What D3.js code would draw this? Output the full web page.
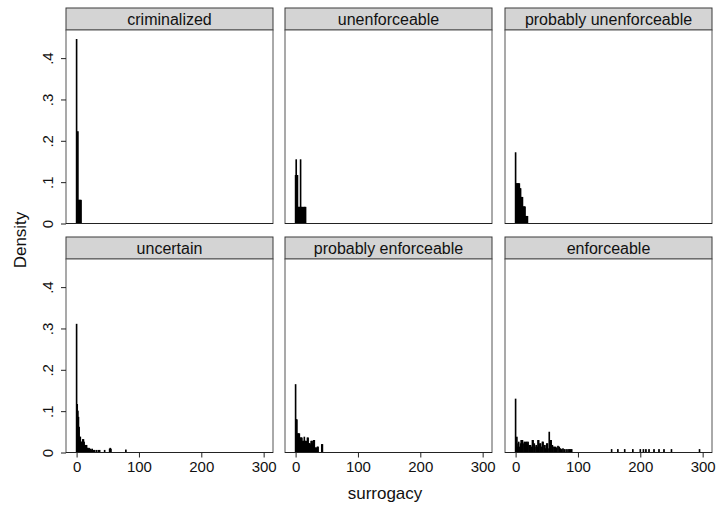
<!DOCTYPE html>
<html><head><meta charset="utf-8">
<script src="https://cdn.jsdelivr.net/npm/d3@7/dist/d3.min.js"></script>
<style>
body{margin:0;background:#fff;}
svg{display:block;font-family:"Liberation Sans",Arial,Helvetica,sans-serif;}
</style></head>
<body><svg id="chart" width="716" height="508"></svg>
<script>
// ---- data ----
const panelNames = ["criminalized","unenforceable","probably unenforceable","uncertain","probably enforceable","enforceable"];
// [surrogacy value, density], bin width 1
const criminalized = [[0,.445],[2,.222],[3,.056],[4,.056],[5,.056],[6,.056],[7,.056]];
const unenforceable = [[0,.116],[1,.154],[2,.116],[3,.116],[4,.039],[5,.039],[6,.039],[7,.039],[8,.154],[9,.039],[10,.039],[11,.039],[13,.039],[14,.039],[15,.039],[16,.039]];
const probablyUnenforceable = [[0,.171],[1,.096],[2,.096],[3,.096],[4,.096],[5,.096],[6,.096],[7,.084],[8,.084],[9,.063],[10,.063],[11,.063],[12,.040],[13,.040],[14,.040],[15,.040],[16,.017],[17,.017],[18,.017],[19,.017]];
const uncertain = [[0,.310],[1,.116],[2,.100],[3,.085],[4,.061],[5,.037],[6,.037],[7,.025],[8,.025],[9,.021],[10,.031],[11,.031],[12,.025],[13,.017],[14,.017],[15,.013],[16,.017],[17,.010],[18,.010],[19,.008],[20,.010],[21,.006],[22,.008],[24,.006],[25,.008],[27,.005],[29,.005],[32,.005],[35,.005],[37,.005],[45,.005],[53,.008],[54,.010],[55,.008],[79,.006]];
const probablyEnforceable = [[0,.164],[1,.079],[2,.079],[3,.045],[4,.045],[5,.045],[6,.045],[7,.035],[8,.035],[9,.035],[10,.035],[11,.027],[12,.027],[13,.027],[14,.037],[15,.027],[16,.027],[17,.027],[18,.021],[19,.035],[20,.035],[21,.021],[22,.021],[23,.021],[24,.017],[25,.027],[26,.027],[27,.021],[28,.027],[29,.029],[30,.029],[32,.011],[33,.011],[35,.013],[36,.013],[42,.019],[43,.019]];
const enforceable = [[0,.129],[1,.011],[2,.037],[3,.013],[4,.021],[5,.025],[6,.013],[8,.021],[9,.029],[10,.021],[11,.029],[12,.021],[14,.025],[15,.021],[16,.025],[18,.025],[19,.021],[20,.025],[22,.017],[23,.013],[24,.017],[26,.013],[27,.029],[28,.029],[30,.021],[31,.013],[33,.017],[35,.013],[36,.029],[37,.029],[39,.021],[40,.021],[41,.013],[43,.025],[44,.025],[46,.017],[47,.017],[48,.009],[50,.021],[51,.021],[52,.009],[54,.049],[56,.029],[57,.029],[59,.017],[60,.013],[62,.013],[64,.013],[66,.011],[68,.015],[70,.013],[72,.009],[74,.007],[76,.009],[78,.007],[81,.007],[84,.007],[86,.007],[88,.007],[90,.007],[154,.007],[164,.007],[175,.007],[188,.007],[200,.007],[205,.007],[209,.007],[214,.007],[222,.007],[230,.007],[238,.007],[250,.007],[295,.007]];
const panelData = [criminalized, unenforceable, probablyUnenforceable, uncertain, probablyEnforceable, enforceable];
const xTicks = [0,100,200,300];
const yTicks = [0,.1,.2,.3,.4];
const yTickLabels = ["0",".1",".2",".3",".4"];
const binWidth = 1;

// ---- layout ----
const svg = d3.select("#chart");
const colX = [66,285,505], panelW = 207;
const rowTop = [8,237], stripH = 22, plotH = 193.5;
const xDomain = [-17,315], yDomain = [0,0.468];
const FONT = "'Liberation Sans',Arial,sans-serif";

panelNames.forEach((name,i)=>{
  const r = Math.floor(i/3), c = i%3;
  const x0 = colX[c], top = rowTop[r], py = top+stripH, pb = py+plotH;
  const x = d3.scaleLinear().domain(xDomain).range([x0,x0+panelW]);
  const y = d3.scaleLinear().domain(yDomain).range([pb,py]);
  const g = svg.append("g");
  // strip
  g.append("rect").attr("x",x0).attr("y",top).attr("width",panelW).attr("height",stripH)
    .attr("fill","#d4d4d4").attr("stroke","#3a3a3a").attr("stroke-width",1);
  g.append("text").attr("x",x0+panelW/2).attr("y",top+stripH/2+5.5).attr("text-anchor","middle")
    .attr("font-size",16).attr("fill","#111").text(name);
  // plot region
  g.append("rect").attr("x",x0).attr("y",py).attr("width",panelW).attr("height",plotH)
    .attr("fill","#fff").attr("stroke","#555").attr("stroke-width",1);
  // bars
  g.append("g").selectAll("rect").data(panelData[i]).join("rect")
    .attr("x",d=>x(d[0]-binWidth/2)).attr("width",d=>x(d[0]+binWidth/2)-x(d[0]-binWidth/2))
    .attr("y",d=>y(d[1])).attr("height",d=>y(0)-y(d[1]))
    .attr("fill","#000").attr("stroke","#000").attr("stroke-width",1);
  // bottom axis line
  g.append("line").attr("x1",x0).attr("x2",x0+panelW).attr("y1",pb).attr("y2",pb)
    .attr("stroke","#222").attr("stroke-width",1.2);
  if(c===0){
    const ya = g.append("g").attr("transform",`translate(${x0},0)`)
      .call(d3.axisLeft(y).tickValues(yTicks).tickSize(5).tickFormat((d,k)=>yTickLabels[k]));
    ya.select(".domain").remove();
    ya.selectAll(".tick line").attr("stroke","#222");
    ya.selectAll(".tick text").attr("transform","rotate(-90)").attr("x",0).attr("y",-13)
      .attr("dy",0).attr("text-anchor","middle").attr("font-size",15).attr("fill","#111")
      .attr("font-family",FONT);
  }
  if(r===1){
    const xa = g.append("g").attr("transform",`translate(0,${pb})`)
      .call(d3.axisBottom(x).tickValues(xTicks).tickSize(5).tickPadding(4));
    xa.select(".domain").remove();
    xa.selectAll(".tick line").attr("stroke","#222");
    xa.selectAll(".tick text").attr("font-size",15).attr("fill","#111")
      .attr("font-family",FONT);
  }
});
svg.append("text").attr("x",385).attr("y",499).attr("text-anchor","middle")
  .attr("font-size",17).attr("fill","#111").text("surrogacy");
svg.append("text").attr("transform","translate(26,240) rotate(-90)").attr("text-anchor","middle")
  .attr("font-size",17).attr("fill","#111").text("Density");
</script></body></html>
